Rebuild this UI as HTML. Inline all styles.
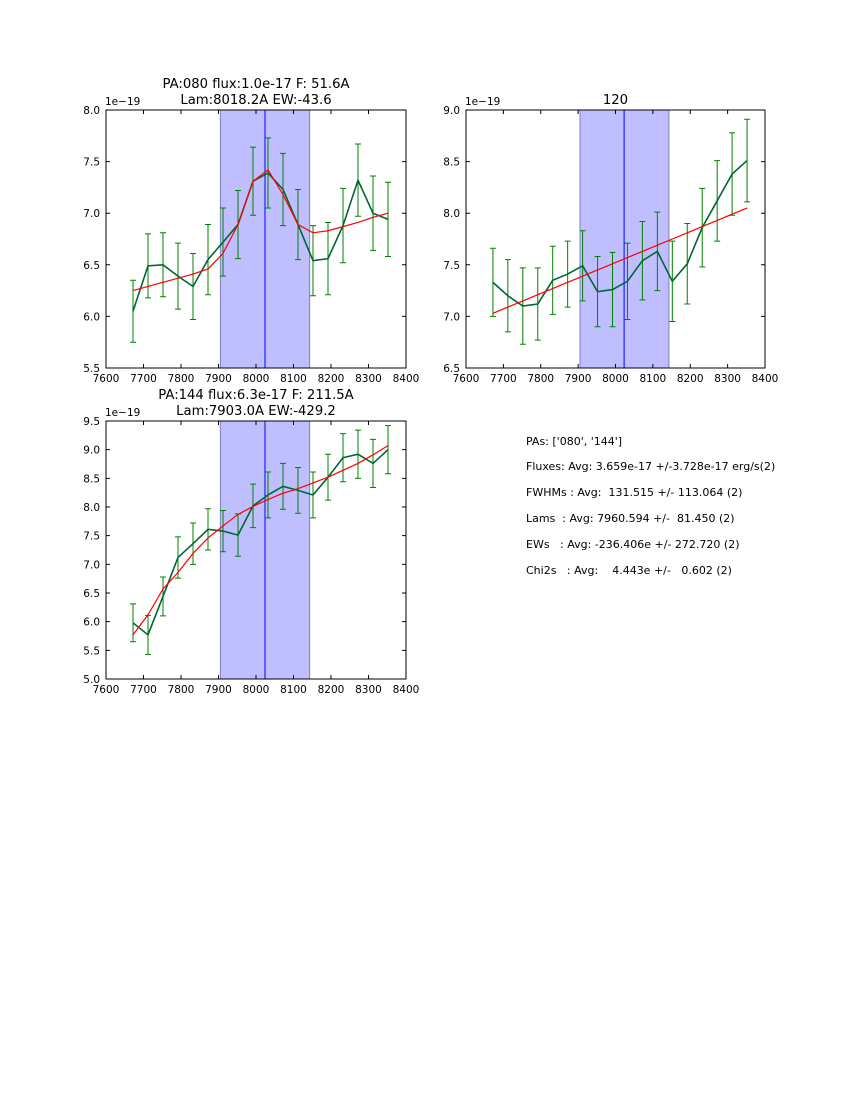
<!DOCTYPE html>
<html><head><meta charset="utf-8"><style>
body{margin:0;background:#fff;width:850px;height:1100px;overflow:hidden}
svg{font-family:"DejaVu Sans","Liberation Sans",sans-serif}
</style></head><body>
<svg id="fig" width="850" height="1100">
<g font-size="11" fill="#000">
<text x="526" y="445">PAs: ['080', '144']</text>
<text x="526" y="470" xml:space="preserve">Fluxes: Avg: 3.659e-17 +/-3.728e-17 erg/s(2)</text>
<text x="526" y="496" xml:space="preserve">FWHMs : Avg:  131.515 +/- 113.064 (2)</text>
<text x="526" y="522" xml:space="preserve">Lams  : Avg: 7960.594 +/-  81.450 (2)</text>
<text x="526" y="548" xml:space="preserve">EWs   : Avg: -236.406e +/- 272.720 (2)</text>
<text x="526" y="574" xml:space="preserve">Chi2s   : Avg:    4.443e +/-   0.602 (2)</text>
</g>
</svg>
<script>
const wave = [7672,7712,7752,7792,7832,7872,7912,7952,7992,8032,8072,8112,8152,8192,8232,8272,8312,8352];
const p1Flux = [6.05,6.49,6.50,6.39,6.29,6.55,6.72,6.89,7.31,7.39,7.23,6.89,6.54,6.56,6.88,7.32,7.00,6.94];
const p1Err = [0.30,0.31,0.31,0.32,0.32,0.34,0.33,0.33,0.33,0.34,0.35,0.34,0.34,0.35,0.36,0.35,0.36,0.36];
const p1Fit = [6.25,6.29,6.33,6.37,6.41,6.46,6.61,6.89,7.31,7.42,7.18,6.89,6.81,6.83,6.87,6.91,6.96,7.00];
const p2Flux = [7.33,7.20,7.10,7.12,7.35,7.41,7.49,7.24,7.26,7.34,7.54,7.63,7.34,7.51,7.86,8.12,8.38,8.51];
const p2Err = [0.33,0.35,0.37,0.35,0.33,0.32,0.34,0.34,0.36,0.37,0.38,0.38,0.39,0.39,0.38,0.39,0.40,0.40];
const p2Fit = [7.03,7.09,7.15,7.21,7.27,7.33,7.39,7.45,7.51,7.57,7.63,7.69,7.75,7.81,7.87,7.93,7.99,8.05];
const p3Flux = [5.98,5.77,6.44,7.12,7.36,7.61,7.58,7.51,8.02,8.21,8.36,8.29,8.21,8.52,8.86,8.92,8.76,9.00];
const p3Err = [0.33,0.34,0.34,0.36,0.36,0.36,0.36,0.37,0.38,0.40,0.40,0.40,0.40,0.40,0.42,0.42,0.42,0.42];
const p3Fit = [5.77,6.12,6.57,6.86,7.19,7.46,7.67,7.87,8.01,8.13,8.24,8.32,8.42,8.52,8.64,8.76,8.91,9.07];
const xTicks = [7600,7700,7800,7900,8000,8100,8200,8300,8400];
const p1YTicks = [5.5,6.0,6.5,7.0,7.5,8.0];
const p2YTicks = [6.5,7.0,7.5,8.0,8.5,9.0];
const p3YTicks = [5.0,5.5,6.0,6.5,7.0,7.5,8.0,8.5,9.0,9.5];
const bandRange = [7905,8143];
const lineCenters = [8024,8023,8024];

const NS='http://www.w3.org/2000/svg';
const fig=document.getElementById('fig');
function mk(tag,attrs,parent){const e=document.createElementNS(NS,tag);for(const k in attrs)e.setAttribute(k,attrs[k]);parent.appendChild(e);return e;}

function panel(name,L,T,W,H,yTicks,flux,err,fit,center,titles){
  const g=mk('g',{},fig);
  
  
  const x0=xTicks[0],x1=xTicks[xTicks.length-1],y0=yTicks[0],y1=yTicks[yTicks.length-1];
  const sx=v=>L+(v-x0)/(x1-x0)*W, sy=v=>T+H-(v-y0)/(y1-y0)*H;
  const band=mk('rect',{x:sx(bandRange[0]),y:T,width:sx(bandRange[1])-sx(bandRange[0]),height:H,fill:'#bfbfff',stroke:'#7f7fbf','stroke-width':1},g);
  
  
  const vl=mk('line',{x1:sx(center),x2:sx(center),y1:T,y2:T+H,stroke:'#0000ff','stroke-width':1},g);
  
  
  wave.forEach((w,i)=>{
    const x=sx(w),ya=sy(flux[i]+err[i]),yb=sy(flux[i]-err[i]);
    const eb=mk('path',{d:`M${x},${ya}V${yb}M${x-3},${ya}H${x+3}M${x-3},${yb}H${x+3}`,stroke:'#008000','stroke-width':1,fill:'none'},g);
    
    
  });
  const dl=mk('polyline',{points:wave.map((w,i)=>sx(w)+','+sy(flux[i])).join(' '),stroke:'#006633','stroke-width':1.6,fill:'none'},g);
  
  
  const fl=mk('polyline',{points:wave.map((w,i)=>sx(w)+','+sy(fit[i])).join(' '),stroke:'#ff0000','stroke-width':1.2,fill:'none'},g);
  
  
  const fr=mk('rect',{x:L,y:T,width:W,height:H,fill:'none',stroke:'#000','stroke-width':1},g);
  
  
  xTicks.forEach(v=>{
    const x=sx(v);
    mk('path',{d:`M${x},${T+H}v-4M${x},${T}v4`,stroke:'#000'},g);
    const t=mk('text',{x:x,y:T+H+14,'font-size':10.5,'text-anchor':'middle'},g);
    t.textContent=v;
    
    
  });
  yTicks.forEach(v=>{
    const y=sy(v);
    mk('path',{d:`M${L},${y}h4M${L+W},${y}h-4`,stroke:'#000'},g);
    const t=mk('text',{x:L-6,y:y+4,'font-size':10.5,'text-anchor':'end'},g);
    t.textContent=v.toFixed(1);
    
    
  });
  const off=mk('text',{x:L-1,y:T-5,'font-size':10.5},g);
  off.textContent='1e\u221219';
  
  
  titles.forEach((s,i)=>{
    const t=mk('text',{x:L+W/2,y:T-6-(titles.length-1-i)*16,'font-size':13.2,'text-anchor':'middle'},g);
    t.textContent=s;
    
    
  });
}
panel('panel-pa080',106,110,300,258,p1YTicks,p1Flux,p1Err,p1Fit,lineCenters[0],['PA:080 flux:1.0e-17 F: 51.6A','Lam:8018.2A EW:-43.6']);
panel('panel-pa120',466,110,299,258,p2YTicks,p2Flux,p2Err,p2Fit,lineCenters[1],['120']);
panel('panel-pa144',106,421,300,258,p3YTicks,p3Flux,p3Err,p3Fit,lineCenters[2],['PA:144 flux:6.3e-17 F: 211.5A','Lam:7903.0A EW:-429.2']);
</script>
</body></html>
